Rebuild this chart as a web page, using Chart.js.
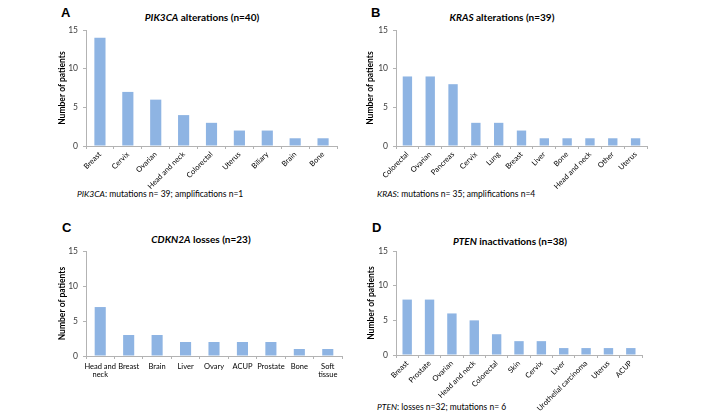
<!DOCTYPE html>
<html><head><meta charset="utf-8">
<script src="https://cdn.jsdelivr.net/npm/chart.js@4.4.1/dist/chart.umd.min.js"></script>
<style>
html,body{margin:0;padding:0;background:#fff;}
body{width:705px;height:416px;position:relative;overflow:hidden;font-family:Lato,"Open Sans",sans-serif;}
.lt{position:absolute;font-family:"Liberation Sans",Arial,sans-serif;font-weight:bold;font-size:13px;line-height:13px;color:#000;}
.ttl{position:absolute;width:220px;text-align:center;font-family:Lato,sans-serif;font-weight:bold;font-size:10px;line-height:10px;color:#000;white-space:nowrap;}
.fn{position:absolute;font-family:Lato,sans-serif;font-size:8.5px;line-height:9px;color:#000;white-space:nowrap;}
canvas{position:absolute;}
</style></head>
<body>
<div class="lt" style="left:61px;top:6px;">A</div>
<div class="lt" style="left:371px;top:6px;">B</div>
<div class="lt" style="left:62px;top:221px;">C</div>
<div class="lt" style="left:372px;top:221px;">D</div>

<div class="ttl" style="left:92px;top:12px;"><i>PIK3CA</i> alterations (n=40)</div>
<div class="ttl" style="left:392px;top:12px;"><i>KRAS</i> alterations (n=39)</div>
<div class="ttl" style="left:91px;top:234px;"><i>CDKN2A</i> losses (n=23)</div>
<div class="ttl" style="left:400px;top:236px;"><i>PTEN</i> inactivations (n=38)</div>

<div class="fn" style="left:77px;top:190px;"><i>PIK3CA</i>: mutations n= 39; amplifications n=1</div>
<div class="fn" style="left:377px;top:190px;"><i>KRAS</i>: mutations n= 35; amplifications n=4</div>
<div class="fn" style="left:377px;top:403px;"><i>PTEN</i>: losses n=32; mutations n= 6</div>

<canvas id="cA" style="left:57px;top:20px;" width="288" height="170"></canvas>
<canvas id="cB" style="left:365px;top:20px;" width="290" height="170"></canvas>
<canvas id="cC" style="left:57px;top:241px;" width="293" height="139"></canvas>
<canvas id="cD" style="left:366px;top:241px;" width="284" height="175"></canvas>

<script>
const catsA = ['Breast','Cervix','Ovarian','Head and neck','Colorectal','Uterus','Biliary','Brain','Bone'];
const valsA = [14,7,6,4,3,2,2,1,1];
const catsB = ['Colorectal','Ovarian','Pancreas','Cervix','Lung','Breast','Liver','Bone','Head and neck','Other','Uterus'];
const valsB = [9,9,8,3,3,2,1,1,1,1,1];
const catsC = [['Head and','neck'],'Breast','Brain','Liver','Ovary','ACUP','Prostate','Bone',['Soft','tissue']];
const valsC = [7,3,3,2,2,2,2,1,1];
const catsD = ['Breast','Prostate','Ovarian','Head and neck','Colorectal','Skin','Cervix','Liver','Urothelial carcinoma','Uterus','ACUP'];
const valsD = [8,8,6,5,3,2,2,1,1,1,1];
const yTicks = [0,5,10,15];
const yTitle = 'Number of patients';

const barColor = '#8EB4E3';
const axisColor = '#B3B3B3';
const fontFam = 'Lato, sans-serif';

function make(id, cats, vals, yW, xH, rotated, barPct){
  new Chart(document.getElementById(id), {
    type:'bar',
    data:{labels:cats, datasets:[{data:vals, backgroundColor:barColor, borderWidth:0, barPercentage:barPct, categoryPercentage:1}]},
    options:{
      responsive:false, animation:false, devicePixelRatio:1,
      layout:{padding:{top:8,right:8,left:0,bottom:0}},
      plugins:{legend:{display:false}, tooltip:{enabled:false}},
      scales:{
        x:{
          afterFit:(s)=>{s.height = xH;},
          grid:{drawOnChartArea:false, drawTicks:true, tickLength:3, color:axisColor, offset:true},
          border:{color:axisColor, width:1},
          ticks:{autoSkip:false, minRotation:rotated?45:0, maxRotation:rotated?45:0, padding:rotated?1:3,
                 color:'#000', font:{family:fontFam, size:rotated?7.5:7.5, lineHeight:1.15}}
        },
        y:{
          min:0, max:15,
          afterFit:(s)=>{s.width = yW;},
          afterBuildTicks:(s)=>{s.ticks = yTicks.map(v=>({value:v}));},
          grid:{drawOnChartArea:false, drawTicks:true, tickLength:3, color:axisColor},
          border:{color:axisColor, width:1},
          ticks:{padding:5, color:'#404040', font:{family:fontFam, size:8.5}},
          title:{display:true, text:yTitle, padding:{top:0,bottom:0}, color:'#000', font:{family:fontFam, size:8.5, weight:'bold'}}
        }
      }
    }
  });
}
make('cA', catsA, valsA, 29, 44, true, 0.4);
make('cB', catsB, valsB, 31, 44, true, 0.41);
make('cC', catsC, valsC, 29, 24, false, 0.39);
make('cD', catsD, valsD, 30, 61, true, 0.42);
</script>
</body></html>
